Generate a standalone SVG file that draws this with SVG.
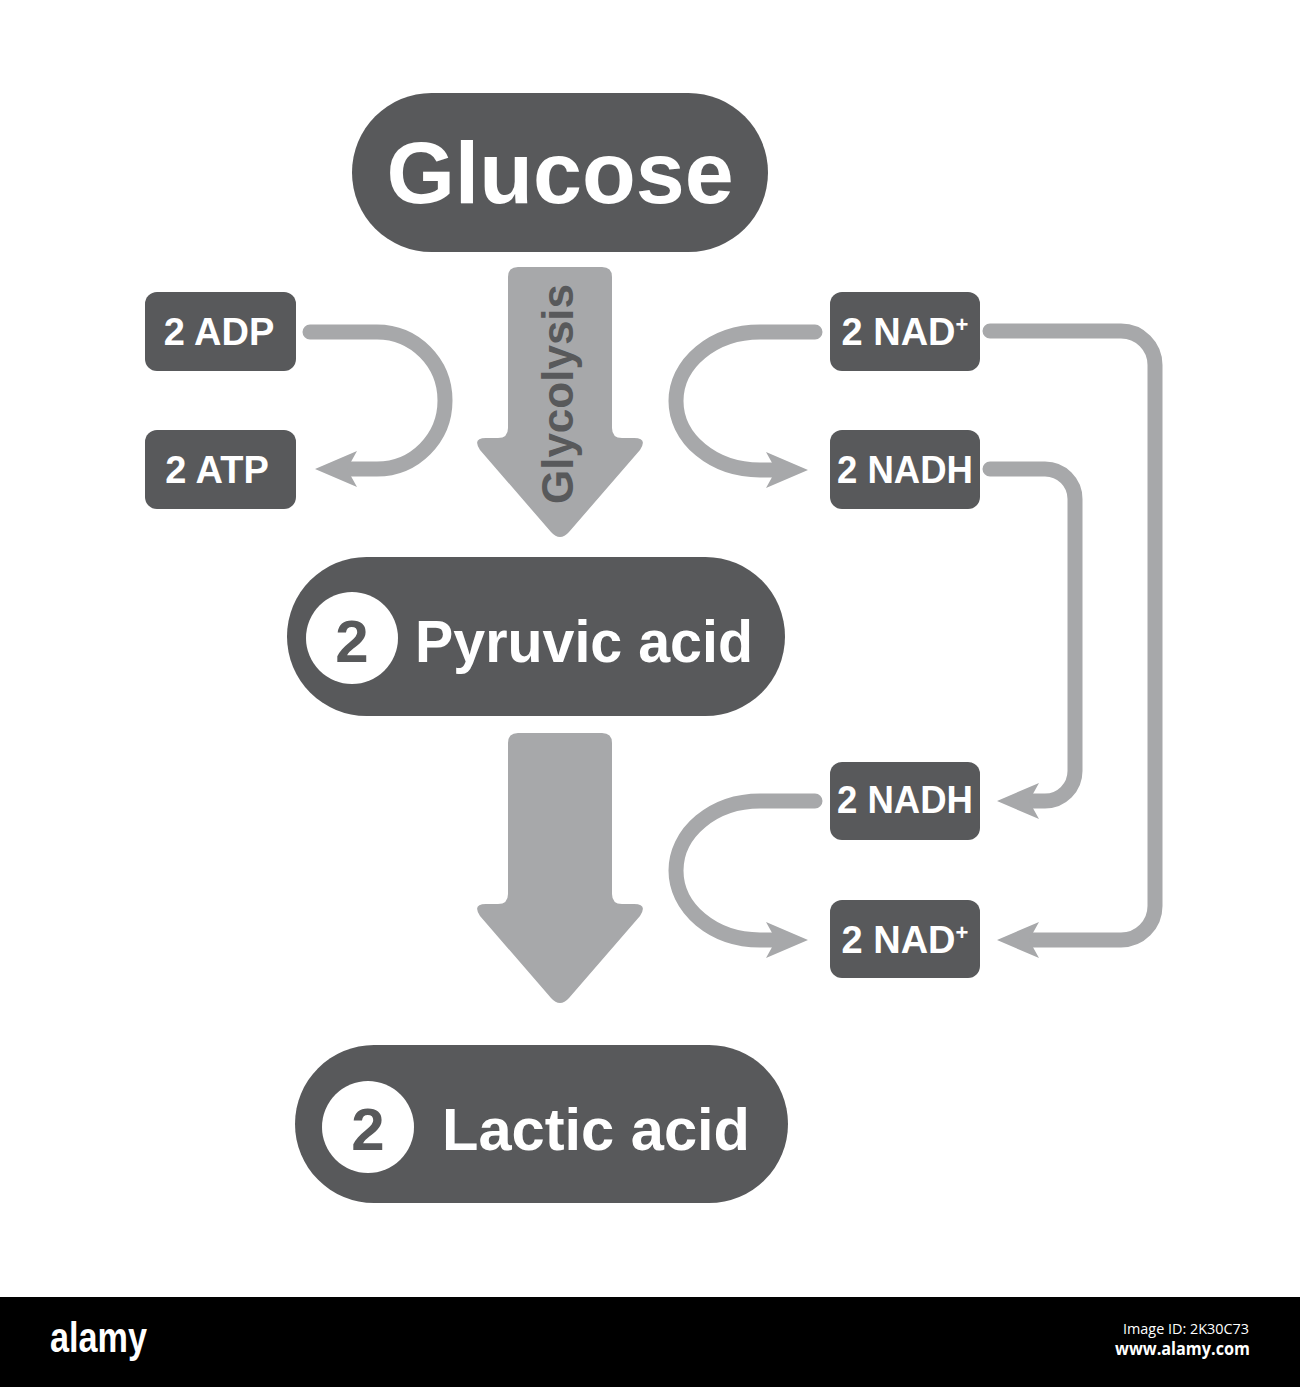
<svg xmlns="http://www.w3.org/2000/svg" width="1300" height="1387" viewBox="0 0 1300 1387">
<style>
.dark{fill:#58595b}
.big{fill:#a7a8aa}
.lbl{font-family:"Liberation Sans",Arial,sans-serif;font-weight:bold;fill:#ffffff}
.box{font-size:38px;text-anchor:middle}
.pill{font-size:60px}
.num{font-family:"Liberation Sans",Arial,sans-serif;font-weight:bold;font-size:60px;fill:#58595b;text-anchor:middle}
.conn{fill:none;stroke:#a7a8aa;stroke-width:15;stroke-linecap:round;stroke-linejoin:round}
</style>
<defs>
<marker id="ah" markerUnits="userSpaceOnUse" markerWidth="42" markerHeight="36" viewBox="0 0 42 36" refX="14" refY="18" orient="auto">
<path d="M0,0 L42,18 L0,36 L10,18 Z" fill="#a7a8aa"/>
</marker>
<path id="bigArrow" d="M518,267 H602 Q612,267 612,277 V428 Q612,438 622,438 H634 Q648,438 640,450 L569,532 Q560,542 551,532 L480,450 Q472,438 486,438 H498 Q508,438 508,428 V277 Q508,267 518,267 Z"/>
</defs>
<rect x="0" y="0" width="1300" height="1387" fill="#ffffff"/>

<g id="connectors">
<path class="conn" marker-end="url(#ah)" d="M310,332 H377 A68,68.5 0 0 1 377,469 H343"/>
<path class="conn" marker-end="url(#ah)" d="M815,332 H760 A84,69 0 0 0 760,470 H780"/>
<path class="conn" marker-end="url(#ah)" d="M815,801 H760 A84,69.5 0 0 0 760,940 H780"/>
<path class="conn" marker-end="url(#ah)" d="M990,331 H1121 A34,34 0 0 1 1155,365 V906 A34,34 0 0 1 1121,940 H1025"/>
<path class="conn" marker-end="url(#ah)" d="M990,469 H1045 A30,30 0 0 1 1075,499 V771 A30,30 0 0 1 1045,801 H1025"/>
</g>

<g id="glycolysis-arrow">
<use href="#bigArrow" class="big"/>
<text class="lbl" transform="translate(573,394) rotate(-90)" text-anchor="middle" font-size="44" style="fill:#58595b">Glycolysis</text>
</g>
<g id="fermentation-arrow">
<use href="#bigArrow" class="big" transform="translate(0,466)"/>
</g>

<g id="glucose">
<rect class="dark" x="352" y="93" width="416" height="159" rx="79.5"/>
<text class="lbl" x="560" y="203" font-size="88" text-anchor="middle">Glucose</text>
</g>

<g id="adp">
<rect class="dark" x="145" y="292" width="151" height="79" rx="12"/>
<text class="lbl box" x="219" y="345">2 ADP</text>
</g>
<g id="atp">
<rect class="dark" x="145" y="430" width="151" height="79" rx="12"/>
<text class="lbl box" x="217" y="483">2 ATP</text>
</g>

<g id="nad-top">
<rect class="dark" x="830" y="292" width="150" height="79" rx="12"/>
<text class="lbl box" x="905" y="345">2 NAD<tspan font-size="22" dy="-13">+</tspan></text>
</g>
<g id="nadh-top">
<rect class="dark" x="830" y="430" width="150" height="79" rx="12"/>
<text class="lbl box" x="905" y="483" textLength="136" lengthAdjust="spacingAndGlyphs">2 NADH</text>
</g>
<g id="nadh-bottom">
<rect class="dark" x="830" y="762" width="150" height="78" rx="12"/>
<text class="lbl box" x="905" y="813" textLength="136" lengthAdjust="spacingAndGlyphs">2 NADH</text>
</g>
<g id="nad-bottom">
<rect class="dark" x="830" y="900" width="150" height="78" rx="12"/>
<text class="lbl box" x="905" y="953">2 NAD<tspan font-size="22" dy="-13">+</tspan></text>
</g>

<g id="pyruvic">
<rect class="dark" x="287" y="557" width="498" height="159" rx="79.5"/>
<circle cx="352" cy="638" r="46" fill="#ffffff"/>
<text class="num" x="352" y="662">2</text>
<text class="lbl pill" x="415" y="662" textLength="338" lengthAdjust="spacingAndGlyphs">Pyruvic acid</text>
</g>

<g id="lactic">
<rect class="dark" x="295" y="1045" width="493" height="158" rx="79"/>
<circle cx="368" cy="1127" r="46" fill="#ffffff"/>
<text class="num" x="368" y="1150">2</text>
<text class="lbl pill" x="442" y="1150" textLength="308" lengthAdjust="spacingAndGlyphs">Lactic acid</text>
</g>

<g id="banner">
<rect x="0" y="1297" width="1300" height="90" fill="#000000"/>
<text x="50" y="1352" font-family="'Liberation Sans',Arial,sans-serif" font-weight="bold" font-size="42" fill="#ffffff" textLength="97" lengthAdjust="spacingAndGlyphs">alamy</text>
<text x="1123" y="1334" font-family="'Open Sans','Liberation Sans',sans-serif" font-size="15" fill="#ffffff" textLength="126" lengthAdjust="spacingAndGlyphs">Image ID: 2K30C73</text>
<text x="1115" y="1355" font-family="'Open Sans','Liberation Sans',sans-serif" font-weight="bold" font-size="18" fill="#ffffff" textLength="135" lengthAdjust="spacingAndGlyphs">www.alamy.com</text>
</g>
</svg>
